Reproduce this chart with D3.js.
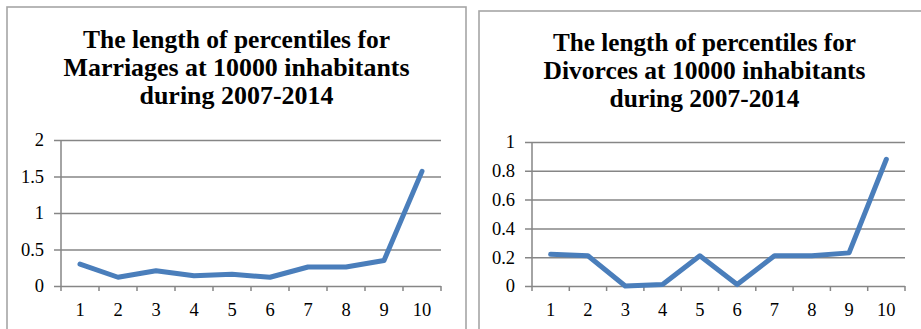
<!DOCTYPE html>
<html>
<head>
<meta charset="utf-8">
<script src="https://cdn.jsdelivr.net/npm/d3@7/dist/d3.min.js"></script>
<style>
  html, body { margin: 0; padding: 0; background: #fff; }
  svg { display: block; }
  text { font-family: "Liberation Serif", "Times New Roman", serif; fill: #000; }
</style>
</head>
<body>
<svg id="chart" width="921" height="329"></svg>
<script>
// Percentile groups on the horizontal axis
const percentiles = ["1", "2", "3", "4", "5", "6", "7", "8", "9", "10"];

// Length of each percentile, per 10000 inhabitants, 2007-2014
const marriageValues = [0.30, 0.12, 0.21, 0.14, 0.16, 0.12, 0.26, 0.26, 0.35, 1.57];
const divorceValues  = [0.22, 0.21, 0.00, 0.01, 0.21, 0.01, 0.21, 0.21, 0.23, 0.88];

// Axis ticks
const marriageTicks = [0, 0.5, 1, 1.5, 2];
const divorceTicks  = [0, 0.2, 0.4, 0.6, 0.8, 1];

// Titles (one entry per line)
const marriageTitle = ["The length of percentiles for", "Marriages  at 10000 inhabitants", "during 2007-2014"];
const divorceTitle  = ["The length of percentiles for", "Divorces  at 10000 inhabitants", "during 2007-2014"];

const svg = d3.select("#chart");
const GRID = "#868686";
const LINE = "#4a7ebb";
const SERIF = "'Liberation Serif', 'Times New Roman', serif";
const LABEL_SIZE = 18.5;

function panel(cfg) {
  const g = svg.append("g");

  // chart frame
  g.append("rect")
    .attr("x", cfg.frame.x).attr("y", cfg.frame.y)
    .attr("width", cfg.frame.w).attr("height", cfg.frame.h)
    .attr("fill", "#fff").attr("stroke", "#a6a6a6").attr("stroke-width", 1.6);

  // title
  g.append("g").selectAll("text").data(cfg.title).join("text")
    .attr("x", cfg.titleX)
    .attr("y", (d, i) => cfg.titleY + i * cfg.titleGap)
    .attr("text-anchor", "middle")
    .style("font-family", SERIF)
    .style("font-size", "25px").style("font-weight", "bold")
    .attr("textLength", (d, i) => cfg.titleLens[i])
    .attr("lengthAdjust", "spacingAndGlyphs")
    .text(d => d);

  const x = d3.scaleBand().domain(cfg.categories).range([cfg.left, cfg.right]);
  const y = d3.scaleLinear().domain([0, d3.max(cfg.ticks)]).range([cfg.bottom, cfg.top]);

  // horizontal gridlines plus y ticks
  const yAxis = d3.axisLeft(y)
    .tickValues(cfg.ticks)
    .tickSize(-(cfg.right - cfg.left))
    .tickSizeOuter(0)
    .tickPadding(0)
    .tickFormat(d3.format("~g"));
  const ya = g.append("g").attr("transform", `translate(${cfg.left},0)`).call(yAxis);
  ya.select(".domain").remove();
  ya.selectAll(".tick line").attr("stroke", GRID).attr("stroke-width", 1.5)
    .attr("x1", -7).attr("x2", cfg.right - cfg.left);
  ya.selectAll(".tick text")
    .attr("x", -17)
    .style("font-family", SERIF).style("font-size", LABEL_SIZE + "px")
    .style("fill", "#000");

  // vertical axis line
  g.append("line")
    .attr("x1", cfg.left).attr("x2", cfg.left)
    .attr("y1", cfg.top).attr("y2", cfg.bottom)
    .attr("stroke", GRID).attr("stroke-width", 1.5);

  // category boundary ticks below the baseline
  const bounds = cfg.categories.map(c => x(c)).concat([x.range()[1]]);
  g.append("g").selectAll("line").data(bounds).join("line")
    .attr("x1", d => d).attr("x2", d => d)
    .attr("y1", cfg.bottom).attr("y2", cfg.bottom + 5)
    .attr("stroke", GRID).attr("stroke-width", 1.5);

  // category labels
  g.append("g").selectAll("text").data(cfg.categories).join("text")
    .attr("x", d => x(d) + x.bandwidth() / 2)
    .attr("y", cfg.bottom + 30)
    .attr("text-anchor", "middle")
    .style("font-family", SERIF).style("font-size", LABEL_SIZE + "px")
    .text(d => d);

  // data line
  const line = d3.line()
    .x((d, i) => x(cfg.categories[i]) + x.bandwidth() / 2)
    .y(d => y(d));
  g.append("path")
    .datum(cfg.values)
    .attr("d", line)
    .attr("fill", "none")
    .attr("stroke", LINE)
    .attr("stroke-width", 5)
    .attr("stroke-linejoin", "round")
    .attr("stroke-linecap", "round");
}

panel({
  frame: { x: 7, y: 7, w: 459, h: 340 },
  title: marriageTitle, titleX: 236.5, titleY: 48, titleGap: 28,
  titleLens: [307, 346, 194],
  categories: percentiles, values: marriageValues, ticks: marriageTicks,
  left: 61, right: 441, top: 140, bottom: 286
});

panel({
  frame: { x: 479, y: 11, w: 460, h: 340 },
  title: divorceTitle, titleX: 704.5, titleY: 51, titleGap: 28,
  titleLens: [303, 322, 190],
  categories: percentiles, values: divorceValues, ticks: divorceTicks,
  left: 532, right: 905, top: 142, bottom: 286
});
</script>
</body>
</html>
